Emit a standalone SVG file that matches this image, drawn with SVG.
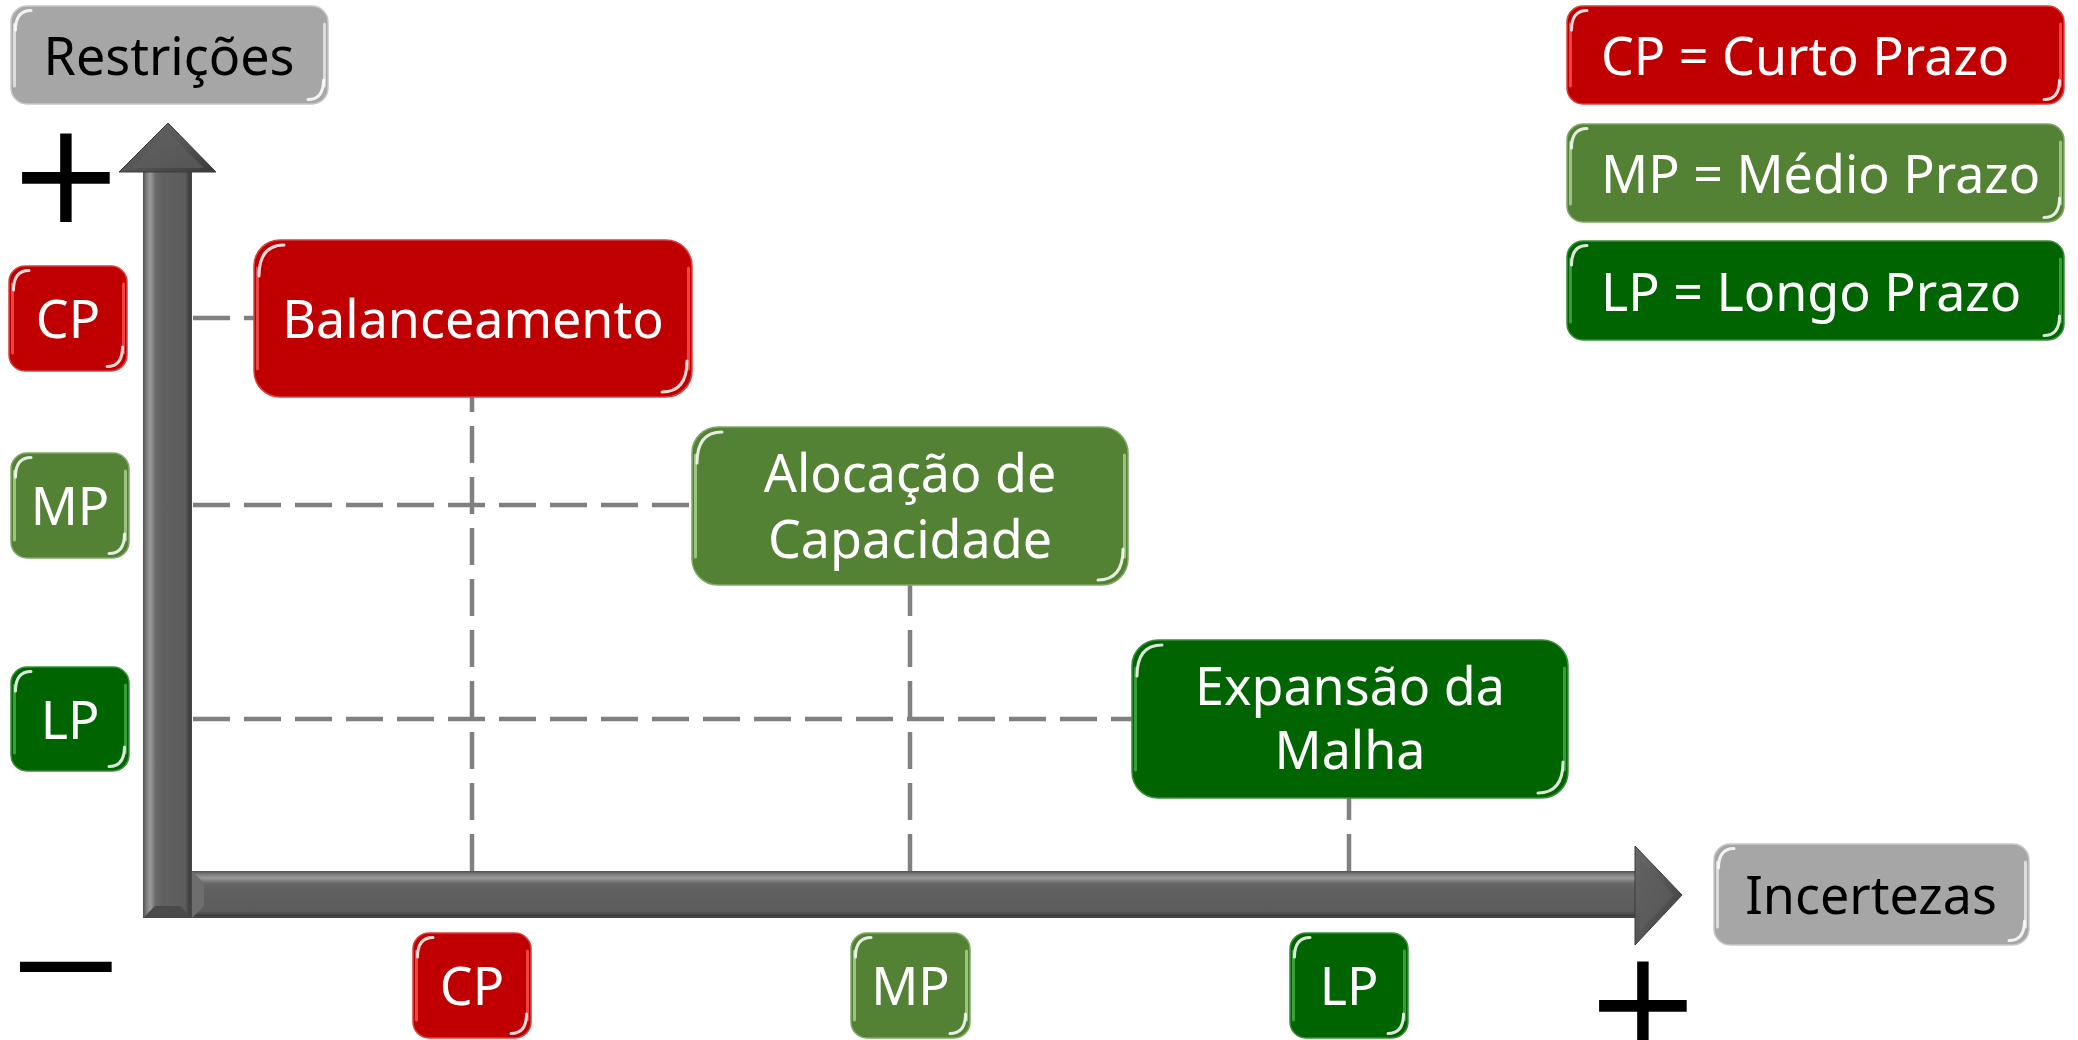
<svg xmlns="http://www.w3.org/2000/svg" width="2078" height="1040" viewBox="0 0 2078 1040">
<defs>
<style>
.t{font-family:"Noto Sans","Open Sans","DejaVu Sans",sans-serif;font-size:52px;fill:#fff}
.tc{text-anchor:middle}
.dk{fill:#000}
.red{fill:#C00000;stroke:#D84040;stroke-width:1.5}
.olv{fill:#548235;stroke:#7FA866;stroke-width:1.5}
.dg{fill:#006400;stroke:#3C8C3C;stroke-width:1.5}
.gry{fill:#A6A6A6;stroke:#C8C8C8;stroke-width:1.5}
.edge{fill:none;stroke-width:3;stroke-linecap:round;opacity:.75}
.glint{fill:none;stroke:#fff;stroke-width:3;stroke-linecap:round;opacity:.85}
.lr{stroke:#FF5A5A}.lo{stroke:#B5D79C}.ld{stroke:#4CB04C}.lg{stroke:#EDEDED}
.dash{fill:none;stroke:#808080;stroke-width:4.5;stroke-dasharray:37 14}
.sym{font-family:"DejaVu Sans",sans-serif;font-size:140px;fill:#000;text-anchor:middle}
</style>
<linearGradient id="gv" x1="0" y1="0" x2="1" y2="0">
<stop offset="0" stop-color="#505050"/><stop offset=".07" stop-color="#7c7c7c"/><stop offset=".15" stop-color="#9a9a9a"/><stop offset=".26" stop-color="#686868"/><stop offset=".4" stop-color="#606060"/><stop offset=".86" stop-color="#5c5c5c"/><stop offset=".95" stop-color="#3e3e3e"/><stop offset="1" stop-color="#4a4a4a"/>
</linearGradient>
<linearGradient id="gh" x1="0" y1="0" x2="0" y2="1">
<stop offset="0" stop-color="#505050"/><stop offset=".07" stop-color="#7c7c7c"/><stop offset=".15" stop-color="#9a9a9a"/><stop offset=".26" stop-color="#686868"/><stop offset=".4" stop-color="#606060"/><stop offset=".86" stop-color="#5c5c5c"/><stop offset=".95" stop-color="#3e3e3e"/><stop offset="1" stop-color="#4a4a4a"/>
</linearGradient>
<linearGradient id="ghead" x1="0" y1="0" x2="1" y2="1">
<stop offset="0" stop-color="#6a6a6a"/><stop offset=".5" stop-color="#565656"/><stop offset="1" stop-color="#3a3a3a"/>
</linearGradient>
</defs>
<rect width="2078" height="1040" fill="#fff"/>

<g id="connectors">
<path class="dash" d="M193,318 H254"/>
<path class="dash" d="M193,505 H692"/>
<path class="dash" d="M193,719 H1132"/>
<path class="dash" d="M472,871 V397"/>
<path class="dash" d="M910,871 V585"/>
<path class="dash" d="M1349,871 V798"/>
</g>

<g id="axis-y">
<rect x="143" y="170" width="49" height="748" fill="url(#gv)"/>
<polygon points="119,172 168,123 216,172" fill="url(#ghead)" stroke="#3c3c3c" stroke-width="1"/>
<polygon points="132,168 168,132 204,168" fill="#5e5e5e" opacity=".7"/>
<path d="M143,918 L155,906 L180,906 L192,918 Z" fill="#4a4a4a"/>
</g>
<g id="axis-x">
<rect x="192" y="871" width="1445" height="47" fill="url(#gh)"/>
<polygon points="1635,846 1682,895 1635,945" fill="url(#ghead)" stroke="#3c3c3c" stroke-width="1"/>
<polygon points="1640,860 1674,895 1640,931" fill="#5e5e5e" opacity=".7"/>
<path d="M192,871 L204,883 L204,906 L192,918 Z" fill="#6e6e6e"/>
</g>

<g id="sign-plus-y"><text class="sym" x="66" y="222">+</text></g>
<g id="sign-minus"><text class="sym" x="66" y="998" style="font-size:100px;stroke:#000;stroke-width:2" textLength="119" lengthAdjust="spacingAndGlyphs">−</text></g>
<g id="sign-plus-x"><text class="sym" x="1643" y="1050">+</text></g>

<g id="restricoes" transform="translate(11,6)">
<rect class="gry" width="317" height="98" rx="16"/>
<path class="edge lg" d="M3.5,18 V80 M313.5,18 V80"/>
<path class="glint" d="M4.5,24 Q4.5,4.5 20,4.5 M312.5,74 Q312.5,93.5 297,93.5"/>
<text class="t tc dk" x="158" y="69">Restrições</text>
</g>

<g id="incertezas" transform="translate(1714,844)">
<rect class="gry" width="315" height="101" rx="16"/>
<path class="edge lg" d="M3.5,18 V83 M311.5,18 V83"/>
<path class="glint" d="M4.5,24 Q4.5,4.5 20,4.5 M310.5,77 Q310.5,96.5 295,96.5"/>
<text class="t tc dk" x="157" y="70">Incertezas</text>
</g>

<g id="legend-cp" transform="translate(1567,6)">
<rect class="red" width="497" height="98" rx="16"/>
<path class="edge lr" d="M3.5,18 V80 M493.5,18 V80"/>
<path class="glint" d="M4.5,24 Q4.5,4.5 20,4.5 M492.5,74 Q492.5,93.5 477,93.5"/>
<text class="t" x="34" y="69">CP = Curto Prazo</text>
</g>
<g id="legend-mp" transform="translate(1567,124)">
<rect class="olv" width="497" height="98" rx="16"/>
<path class="edge lo" d="M3.5,18 V80 M493.5,18 V80"/>
<path class="glint" d="M4.5,24 Q4.5,4.5 20,4.5 M492.5,74 Q492.5,93.5 477,93.5"/>
<text class="t" x="34" y="69">MP = Médio Prazo</text>
</g>
<g id="legend-lp" transform="translate(1567,241)">
<rect class="dg" width="497" height="99" rx="16"/>
<path class="edge ld" d="M3.5,18 V81 M493.5,18 V81"/>
<path class="glint" d="M4.5,24 Q4.5,4.5 20,4.5 M492.5,75 Q492.5,94.5 477,94.5"/>
<text class="t" x="34" y="70">LP = Longo Prazo</text>
</g>

<g id="y-cp" transform="translate(9,266)">
<rect class="red" width="118" height="105" rx="16"/>
<path class="edge lr" d="M3.5,18 V87 M114.5,18 V87"/>
<path class="glint" d="M4.5,24 Q4.5,4.5 20,4.5 M113.5,81 Q113.5,100.5 98,100.5"/>
<text class="t tc" x="59" y="72">CP</text>
</g>
<g id="y-mp" transform="translate(11,453)">
<rect class="olv" width="118" height="105" rx="16"/>
<path class="edge lo" d="M3.5,18 V87 M114.5,18 V87"/>
<path class="glint" d="M4.5,24 Q4.5,4.5 20,4.5 M113.5,81 Q113.5,100.5 98,100.5"/>
<text class="t tc" x="59" y="72">MP</text>
</g>
<g id="y-lp" transform="translate(11,667)">
<rect class="dg" width="118" height="104" rx="16"/>
<path class="edge ld" d="M3.5,18 V86 M114.5,18 V86"/>
<path class="glint" d="M4.5,24 Q4.5,4.5 20,4.5 M113.5,80 Q113.5,99.5 98,99.5"/>
<text class="t tc" x="59" y="72">LP</text>
</g>

<g id="x-cp" transform="translate(413,933)">
<rect class="red" width="118" height="105" rx="16"/>
<path class="edge lr" d="M3.5,18 V87 M114.5,18 V87"/>
<path class="glint" d="M4.5,24 Q4.5,4.5 20,4.5 M113.5,81 Q113.5,100.5 98,100.5"/>
<text class="t tc" x="59" y="72">CP</text>
</g>
<g id="x-mp" transform="translate(851,933)">
<rect class="olv" width="119" height="105" rx="16"/>
<path class="edge lo" d="M3.5,18 V87 M115.5,18 V87"/>
<path class="glint" d="M4.5,24 Q4.5,4.5 20,4.5 M114.5,81 Q114.5,100.5 99,100.5"/>
<text class="t tc" x="59.5" y="72">MP</text>
</g>
<g id="x-lp" transform="translate(1290,933)">
<rect class="dg" width="118" height="105" rx="16"/>
<path class="edge ld" d="M3.5,18 V87 M114.5,18 V87"/>
<path class="glint" d="M4.5,24 Q4.5,4.5 20,4.5 M113.5,81 Q113.5,100.5 98,100.5"/>
<text class="t tc" x="59" y="72">LP</text>
</g>

<g id="balanceamento" transform="translate(254,240)">
<rect class="red" width="438" height="157" rx="26"/>
<path class="edge lr" d="M3.5,28 V129 M434.5,28 V129"/>
<path class="glint" d="M5,36 Q5,5 30,5 M433,121 Q433,152 408,152"/>
<text class="t tc" x="219" y="98">Balanceamento</text>
</g>
<g id="alocacao" transform="translate(692,427)">
<rect class="olv" width="436" height="158" rx="26"/>
<path class="edge lo" d="M3.5,28 V130 M432.5,28 V130"/>
<path class="glint" d="M5,36 Q5,5 30,5 M431,122 Q431,153 406,153"/>
<text class="t tc" x="218" y="65">Alocação de</text>
<text class="t tc" x="218" y="131">Capacidade</text>
</g>
<g id="expansao" transform="translate(1132,640)">
<rect class="dg" width="436" height="158" rx="26"/>
<path class="edge ld" d="M3.5,28 V130 M432.5,28 V130"/>
<path class="glint" d="M5,36 Q5,5 30,5 M431,122 Q431,153 406,153"/>
<text class="t tc" x="218" y="65">Expansão da</text>
<text class="t tc" x="218" y="129">Malha</text>
</g>
</svg>
